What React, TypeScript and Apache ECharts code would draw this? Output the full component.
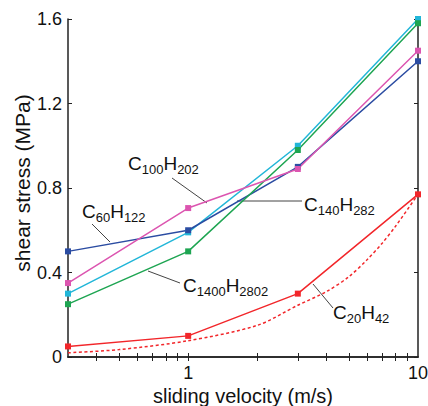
import React, { useEffect, useRef } from 'react';
import * as echarts from 'echarts';

const velocities = [0.3, 1, 3, 10];
const c60h122 = [0.5, 0.6, 0.9, 1.4];
const c100h202 = [0.35, 0.705, 0.89, 1.45];
const c140h282 = [0.3, 0.59, 1.0, 1.6];
const c1400h2802 = [0.25, 0.5, 0.98, 1.58];
const c20h42 = [0.05, 0.1, 0.3, 0.77];
const fitVelocities = [0.3, 0.5, 1, 2, 3, 4, 5, 6, 7, 8, 10];
const c20h42Fit = [0.02, 0.035, 0.077, 0.15, 0.245, 0.31, 0.38, 0.46, 0.54, 0.62, 0.77];
const xTickValues = [0.4, 0.5, 0.6, 0.7, 0.8, 0.9, 1, 2, 3, 4, 5, 6, 7, 8, 9];
const xLabelValues = [1, 10];
const yMin = 0;
const yMax = 1.6;
const yStep = 0.4;

const FONT = '"Liberation Sans Narrow", "Liberation Sans", Arial, sans-serif';
const FONT_TITLE = '"Liberation Sans", Arial, sans-serif';

const pair = (xs: number[], ys: number[]) => xs.map((x, i) => [x, ys[i]]);

const lineSeries = (name: string, ys: number[], color: string) => ({
  name,
  type: 'line',
  data: pair(velocities, ys),
  symbol: 'rect',
  symbolSize: 6,
  itemStyle: { color },
  lineStyle: { color, width: 1.5 },
});

const formula = (c: string, h: string) => `{a|C}{b|${c}}{a|H}{b|${h}}`;

const richStyle = {
  a: { fontSize: 19, fontFamily: FONT, lineHeight: 30, fill: '#111', color: '#111' },
  b: { fontSize: 13, fontFamily: FONT, padding: [13, 0, 0, 0], fill: '#111', color: '#111' },
};

const label = (text: string, x: number, y: number) => ({
  type: 'text',
  x,
  y,
  style: { text, rich: richStyle, fill: '#111', fontFamily: FONT, fontSize: 19, verticalAlign: 'top' },
});

const leader = (x1: number, y1: number, x2: number, y2: number) => ({
  type: 'line',
  shape: { x1, y1, x2, y2 },
  style: { stroke: '#444', lineWidth: 1 },
});

export default function App() {
  const ref = useRef<HTMLDivElement>(null);
  useEffect(() => {
    if (!ref.current) return;
    const chart = echarts.init(ref.current, null, { renderer: 'svg' });
    const axisLine = { show: true, lineStyle: { color: '#222', width: 1.5 } };
    const xBase = {
      type: 'log',
      logBase: 10,
      min: 0.3,
      max: 10,
      axisLine,
      splitLine: { show: false },
      axisTick: { show: true, inside: true, length: 4, customValues: xTickValues, lineStyle: { color: '#222', width: 1 } },
    };
    const yBase = {
      type: 'value',
      min: yMin,
      max: yMax,
      interval: yStep,
      axisLine,
      splitLine: { show: false },
      axisTick: { show: true, inside: true, length: 4, lineStyle: { color: '#222', width: 1 } },
    };
    chart.setOption({
      animation: false,
      backgroundColor: '#fff',
      grid: { left: 68, right: 10, top: 19, bottom: 49, containLabel: false, outerBoundsMode: 'none' },
      xAxis: [
        {
          ...xBase,
          position: 'bottom',
          name: 'sliding velocity (m/s)',
          nameLocation: 'middle',
          nameGap: 29,
          nameMoveOverlap: false,
          nameTextStyle: { fontSize: 20, lineHeight: 20, fontFamily: FONT_TITLE, color: '#111' },
          axisLabel: {
            customValues: xLabelValues,
            fontSize: 18,
            fontFamily: FONT,
            color: '#111',
            margin: 7,
            formatter: (v: number) => String(Math.round(v)),
          },
        },
        { ...xBase, position: 'top', axisLabel: { show: false } },
      ],
      yAxis: [
        {
          ...yBase,
          position: 'left',
          name: 'shear stress (MPa)',
          nameLocation: 'middle',
          nameGap: 35,
          nameMoveOverlap: false,
          nameTextStyle: { fontSize: 21, lineHeight: 21, fontFamily: FONT_TITLE, color: '#111', padding: [0, 0, 0, 10] },
          axisLabel: {
            fontSize: 18,
            fontFamily: FONT,
            color: '#111',
            margin: 6,
            formatter: (v: number) => (v === 0 ? '0' : v.toFixed(1)),
          },
        },
        { ...yBase, position: 'right', axisLabel: { show: false } },
      ],
      series: [
        lineSeries('C140H282', c140h282, '#22b6d8'),
        lineSeries('C60H122', c60h122, '#2b4ca2'),
        lineSeries('C1400H2802', c1400h2802, '#1ea552'),
        lineSeries('C100H202', c100h202, '#dc55b0'),
        lineSeries('C20H42', c20h42, '#f2262a'),
        {
          name: 'C20H42 fit',
          type: 'line',
          data: pair(fitVelocities, c20h42Fit),
          smooth: 0.3,
          showSymbol: false,
          symbol: 'none',
          lineStyle: { color: '#f2262a', width: 1.5, type: [3, 2.5] },
        },
      ],
      graphic: [
        leader(172, 178, 207, 203),
        leader(92, 224, 110, 242),
        leader(237, 201, 302, 201),
        leader(148, 271, 180, 283),
        leader(313, 284, 333, 308),
        label(formula('100', '202'), 128, 148),
        label(formula('60', '122'), 82, 196),
        label(formula('140', '282'), 304, 189),
        label(formula('1400', '2802'), 183, 270),
        label(formula('20', '42'), 333, 297),
      ],
    });
    return () => chart.dispose();
  }, []);
  return (
    <div
      ref={ref}
      style={{ position: 'fixed', left: 0, top: 0, width: 428, height: 406, background: '#fff' }}
    />
  );
}
